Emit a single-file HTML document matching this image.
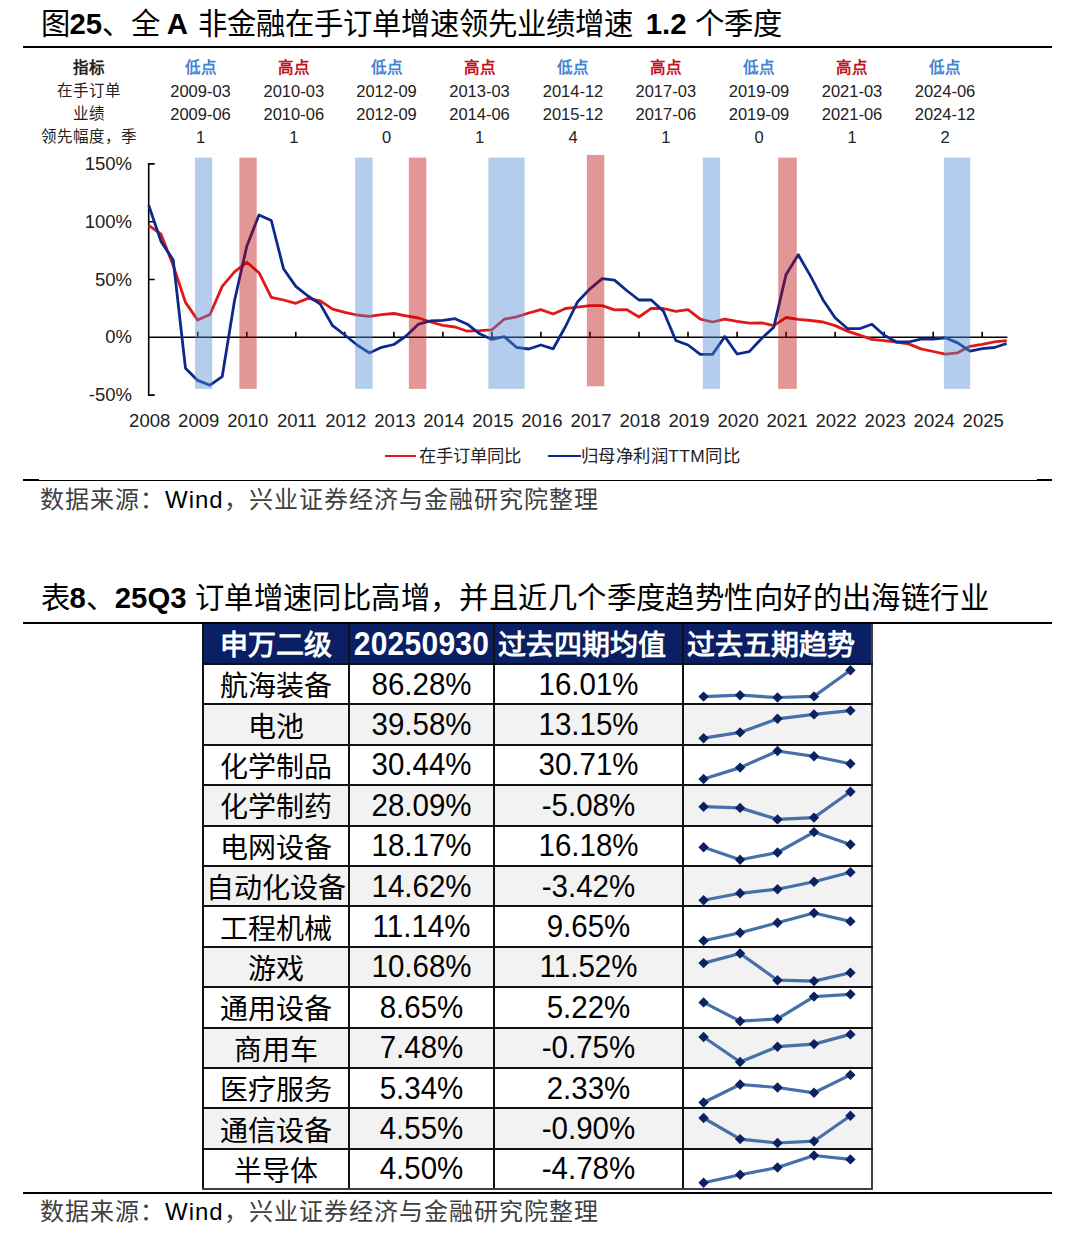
<!DOCTYPE html>
<html lang="zh-CN"><head><meta charset="utf-8"><style>
*{margin:0;padding:0;box-sizing:border-box}
html,body{width:1080px;height:1245px;background:#fff;overflow:hidden}
body{position:relative;font-family:"Liberation Sans",sans-serif;color:#000}
.abs{position:absolute}
.title{position:absolute;left:40.5px;font-size:29.33px;line-height:1;white-space:nowrap;color:#000}
.title b{font-weight:bold}
.rule{position:absolute;left:23px;width:1029px;background:#000}
.src{position:absolute;left:40px;font-size:24px;letter-spacing:1px;line-height:1;white-space:nowrap;color:#404040}
.chart{position:absolute;left:0;top:140px}
.ax{font-family:"Liberation Sans",sans-serif;font-size:18.5px;fill:#222}
.hc{position:absolute;width:120px;text-align:center;font-size:15.5px;line-height:0;white-space:nowrap;color:#222}
.hc.num{font-size:16.5px}
.hc.bold{font-weight:bold}
.hc.lo{color:#3f86d6}
.hc.hi{color:#c8101e}
.legend{position:absolute;top:456px;font-size:17.33px;line-height:0;white-space:nowrap;color:#222}
.lg{position:absolute;height:2.4px;top:455px}
table{position:absolute;left:202px;top:623.6px;border-collapse:collapse;table-layout:fixed}
td,th{border:2px solid #111;text-align:center;font-size:28px;height:40.4px;line-height:36px;padding:0;white-space:nowrap}
th{background:#0a1f64;color:#fff;font-weight:bold;height:40.5px;border-top:0}
tr.g td{background:#f2f2f2}
td span,th span{position:relative}
.cj{top:3px}
.nm{font-size:29.5px;top:-0.2px;display:inline-block;transform:scaleY(1.08)}
.hn{font-size:30px;top:1.2px;display:inline-block;transform:scaleY(1.09);letter-spacing:0.25px}
th.l{text-align:left;padding-left:3px}
tr:last-child td{border-bottom-color:#404040}
td:last-child,th:last-child{border-right-color:#404040}
.spark{position:absolute;left:0;top:620px}
</style></head><body>
<div class="title" style="top:8.7px">图<b>25</b>、全 <b style="margin-left:-1.5px;margin-right:1.5px">A</b> 非金融在手订单增速领先业绩增速 <b style="margin-left:5px">1.2</b> 个季度</div>
<div class="rule" style="top:45.5px;height:2px"></div>
<div class="hc bold" style="left:28.5px;top:67.5px">指标</div>
<div class="hc " style="left:28.5px;top:91px">在手订单</div>
<div class="hc " style="left:28.5px;top:114px">业绩</div>
<div class="hc " style="left:28.5px;top:136.5px">领先幅度，季</div>
<div class="hc bold lo" style="left:140.5px;top:67.5px">低点</div>
<div class="hc num" style="left:140.5px;top:91px">2009-03</div>
<div class="hc num" style="left:140.5px;top:114px">2009-06</div>
<div class="hc num" style="left:140.5px;top:136.5px">1</div>
<div class="hc bold hi" style="left:233.8px;top:67.5px">高点</div>
<div class="hc num" style="left:233.8px;top:91px">2010-03</div>
<div class="hc num" style="left:233.8px;top:114px">2010-06</div>
<div class="hc num" style="left:233.8px;top:136.5px">1</div>
<div class="hc bold lo" style="left:326.5px;top:67.5px">低点</div>
<div class="hc num" style="left:326.5px;top:91px">2012-09</div>
<div class="hc num" style="left:326.5px;top:114px">2012-09</div>
<div class="hc num" style="left:326.5px;top:136.5px">0</div>
<div class="hc bold hi" style="left:419.5px;top:67.5px">高点</div>
<div class="hc num" style="left:419.5px;top:91px">2013-03</div>
<div class="hc num" style="left:419.5px;top:114px">2014-06</div>
<div class="hc num" style="left:419.5px;top:136.5px">1</div>
<div class="hc bold lo" style="left:513.0px;top:67.5px">低点</div>
<div class="hc num" style="left:513.0px;top:91px">2014-12</div>
<div class="hc num" style="left:513.0px;top:114px">2015-12</div>
<div class="hc num" style="left:513.0px;top:136.5px">4</div>
<div class="hc bold hi" style="left:605.8px;top:67.5px">高点</div>
<div class="hc num" style="left:605.8px;top:91px">2017-03</div>
<div class="hc num" style="left:605.8px;top:114px">2017-06</div>
<div class="hc num" style="left:605.8px;top:136.5px">1</div>
<div class="hc bold lo" style="left:699.0px;top:67.5px">低点</div>
<div class="hc num" style="left:699.0px;top:91px">2019-09</div>
<div class="hc num" style="left:699.0px;top:114px">2019-09</div>
<div class="hc num" style="left:699.0px;top:136.5px">0</div>
<div class="hc bold hi" style="left:792.0px;top:67.5px">高点</div>
<div class="hc num" style="left:792.0px;top:91px">2021-03</div>
<div class="hc num" style="left:792.0px;top:114px">2021-06</div>
<div class="hc num" style="left:792.0px;top:136.5px">1</div>
<div class="hc bold lo" style="left:885.0px;top:67.5px">低点</div>
<div class="hc num" style="left:885.0px;top:91px">2024-06</div>
<div class="hc num" style="left:885.0px;top:114px">2024-12</div>
<div class="hc num" style="left:885.0px;top:136.5px">2</div>
<svg class="chart" width="1080" height="330" viewBox="0 140 1080 330">
<path d="M148.7,163.9 H154.7 M148.7,221.7 H154.7 M148.7,279.5 H154.7 M148.7,395.1 H154.7" stroke="#000" stroke-width="1.6" fill="none"/>
<line x1="148.7" y1="163.1" x2="148.7" y2="395.9" stroke="#000" stroke-width="1.6"/>
<line x1="148.7" y1="337.3" x2="1007.4" y2="337.3" stroke="#000" stroke-width="1.6"/>
<path d="M197.7,337.3 V331.8 M246.8,337.3 V331.8 M295.8,337.3 V331.8 M344.8,337.3 V331.8 M393.9,337.3 V331.8 M442.9,337.3 V331.8 M491.9,337.3 V331.8 M540.9,337.3 V331.8 M590.0,337.3 V331.8 M639.0,337.3 V331.8 M688.0,337.3 V331.8 M737.1,337.3 V331.8 M786.1,337.3 V331.8 M835.1,337.3 V331.8 M884.2,337.3 V331.8 M933.2,337.3 V331.8 M982.2,337.3 V331.8" stroke="#000" stroke-width="1.6" fill="none"/>
<polyline points="148.7,225.3 161.0,234.2 173.2,265.5 185.5,302.4 197.7,320.1 210.0,314.5 222.2,286.4 234.5,271.9 246.8,262.3 259.0,272.7 271.3,297.3 283.5,300.0 295.8,303.3 308.0,298.4 320.3,300.8 332.6,309.2 344.8,312.4 357.1,315.0 369.3,316.4 381.6,314.7 393.9,313.5 406.1,315.8 418.4,318.0 430.6,322.0 442.9,325.3 455.1,327.0 467.4,331.2 479.7,330.7 491.9,329.8 504.2,319.2 516.4,316.9 528.7,313.0 540.9,309.6 553.2,314.0 565.5,308.5 577.7,307.1 590.0,305.7 602.2,305.7 614.5,309.8 626.7,309.6 639.0,317.0 651.3,308.3 663.5,308.5 675.8,311.3 688.0,309.6 700.3,319.2 712.5,322.0 724.8,319.2 737.1,321.4 749.3,323.2 761.6,322.8 773.8,325.6 786.1,317.5 798.3,319.4 810.6,320.5 822.9,322.0 835.1,325.6 847.4,331.1 859.6,335.1 871.9,339.4 884.2,340.6 896.4,342.2 908.7,343.9 920.9,348.9 933.2,351.5 945.4,354.1 957.7,352.8 970.0,346.3 982.2,344.4 994.5,341.9 1006.7,340.6" fill="none" stroke="#e01818" stroke-width="2.8" stroke-linejoin="round"/>
<polyline points="148.7,205.3 161.0,241.4 173.2,259.9 185.5,368.3 197.7,380.4 210.0,385.2 222.2,376.7 234.5,300.8 246.8,246.2 259.0,214.9 271.3,220.5 283.5,268.7 295.8,286.4 308.0,296.0 320.3,304.1 332.6,325.7 344.8,335.0 357.1,345.0 369.3,352.9 381.6,347.3 393.9,344.5 406.1,336.0 418.4,324.2 430.6,320.9 442.9,320.3 455.1,318.7 467.4,324.2 479.7,333.8 491.9,339.4 504.2,336.6 516.4,347.3 528.7,349.0 540.9,345.0 553.2,348.8 565.5,326.5 577.7,301.7 590.0,288.8 602.2,278.7 614.5,280.1 626.7,290.5 639.0,300.0 651.3,300.0 663.5,311.3 675.8,340.5 688.0,345.0 700.3,354.4 712.5,354.4 724.8,336.6 737.1,354.0 749.3,351.6 761.6,338.5 773.8,327.3 786.1,274.4 798.3,254.7 810.6,276.1 822.9,299.7 835.1,317.7 847.4,328.5 859.6,328.7 871.9,324.2 884.2,335.3 896.4,342.0 908.7,342.0 920.9,339.1 933.2,339.0 945.4,337.8 957.7,342.9 970.0,351.2 982.2,348.7 994.5,347.5 1006.7,343.5" fill="none" stroke="#0c2a8c" stroke-width="2.8" stroke-linejoin="round"/>
<rect x="195.0" y="157.6" width="17.2" height="231.3" fill="#508cd2" fill-opacity="0.43"/>
<rect x="239.4" y="157.6" width="17.3" height="231.3" fill="#bb0000" fill-opacity="0.41"/>
<rect x="355.1" y="157.6" width="17.5" height="231.3" fill="#508cd2" fill-opacity="0.43"/>
<rect x="408.9" y="157.6" width="17.4" height="231.3" fill="#bb0000" fill-opacity="0.41"/>
<rect x="488.4" y="157.6" width="36.2" height="231.3" fill="#508cd2" fill-opacity="0.43"/>
<rect x="586.9" y="154.9" width="17.4" height="231.4" fill="#bb0000" fill-opacity="0.41"/>
<rect x="702.8" y="157.6" width="17.3" height="231.3" fill="#508cd2" fill-opacity="0.43"/>
<rect x="778.2" y="157.6" width="18.6" height="231.3" fill="#bb0000" fill-opacity="0.41"/>
<rect x="943.9" y="157.6" width="26.3" height="231.3" fill="#508cd2" fill-opacity="0.43"/>
<text x="132" y="169.9" text-anchor="end" class="ax">150%</text>
<text x="132" y="227.7" text-anchor="end" class="ax">100%</text>
<text x="132" y="285.5" text-anchor="end" class="ax">50%</text>
<text x="132" y="343.3" text-anchor="end" class="ax">0%</text>
<text x="132" y="401.1" text-anchor="end" class="ax">-50%</text>
<text x="149.7" y="427" text-anchor="middle" class="ax">2008</text>
<text x="198.7" y="427" text-anchor="middle" class="ax">2009</text>
<text x="247.8" y="427" text-anchor="middle" class="ax">2010</text>
<text x="296.8" y="427" text-anchor="middle" class="ax">2011</text>
<text x="345.8" y="427" text-anchor="middle" class="ax">2012</text>
<text x="394.9" y="427" text-anchor="middle" class="ax">2013</text>
<text x="443.9" y="427" text-anchor="middle" class="ax">2014</text>
<text x="492.9" y="427" text-anchor="middle" class="ax">2015</text>
<text x="541.9" y="427" text-anchor="middle" class="ax">2016</text>
<text x="591.0" y="427" text-anchor="middle" class="ax">2017</text>
<text x="640.0" y="427" text-anchor="middle" class="ax">2018</text>
<text x="689.0" y="427" text-anchor="middle" class="ax">2019</text>
<text x="738.1" y="427" text-anchor="middle" class="ax">2020</text>
<text x="787.1" y="427" text-anchor="middle" class="ax">2021</text>
<text x="836.1" y="427" text-anchor="middle" class="ax">2022</text>
<text x="885.2" y="427" text-anchor="middle" class="ax">2023</text>
<text x="934.2" y="427" text-anchor="middle" class="ax">2024</text>
<text x="983.2" y="427" text-anchor="middle" class="ax">2025</text>
</svg>
<div class="lg" style="left:385px;width:31px;background:#e01818"></div>
<div class="legend" style="left:419px">在手订单同比</div>
<div class="lg" style="left:548px;width:32.5px;background:#0c2a8c"></div>
<div class="legend" style="left:581px;letter-spacing:0.45px">归母净利润TTM同比</div>
<div class="rule" style="top:479.7px;height:1.3px"></div>
<div class="abs" style="left:23px;top:479px;width:16px;height:2px;background:#000"></div>
<div class="abs" style="left:1037px;top:479px;width:15px;height:2px;background:#000"></div>
<div class="src" style="top:488px">数据来源：<span style="color:#000">Wind</span>，兴业证券经济与金融研究院整理</div>
<div class="title" style="top:583px">表<b>8</b>、<b>25Q3</b> <span style="letter-spacing:0.42px">订单增速同比高增，并且近几个季度趋势性向好的出海链行业</span></div>
<div class="rule" style="top:621.5px;height:2px"></div>
<table>
<colgroup><col style="width:146px"><col style="width:145px"><col style="width:189px"><col style="width:189px"></colgroup>
<tr><th><span class="cj">申万二级</span></th><th><span class="hn">20250930</span></th><th class="l"><span class="cj">过去四期均值</span></th><th class="l"><span class="cj">过去五期趋势</span></th></tr>
<tr><td><span class="cj">航海装备</span></td><td><span class="nm">86.28%</span></td><td><span class="nm">16.01%</span></td><td></td></tr>
<tr class="g"><td><span class="cj">电池</span></td><td><span class="nm">39.58%</span></td><td><span class="nm">13.15%</span></td><td></td></tr>
<tr><td><span class="cj">化学制品</span></td><td><span class="nm">30.44%</span></td><td><span class="nm">30.71%</span></td><td></td></tr>
<tr class="g"><td><span class="cj">化学制药</span></td><td><span class="nm">28.09%</span></td><td><span class="nm">-5.08%</span></td><td></td></tr>
<tr><td><span class="cj">电网设备</span></td><td><span class="nm">18.17%</span></td><td><span class="nm">16.18%</span></td><td></td></tr>
<tr class="g"><td><span class="cj">自动化设备</span></td><td><span class="nm">14.62%</span></td><td><span class="nm">-3.42%</span></td><td></td></tr>
<tr><td><span class="cj">工程机械</span></td><td><span class="nm">11.14%</span></td><td><span class="nm">9.65%</span></td><td></td></tr>
<tr class="g"><td><span class="cj">游戏</span></td><td><span class="nm">10.68%</span></td><td><span class="nm">11.52%</span></td><td></td></tr>
<tr><td><span class="cj">通用设备</span></td><td><span class="nm">8.65%</span></td><td><span class="nm">5.22%</span></td><td></td></tr>
<tr class="g"><td><span class="cj">商用车</span></td><td><span class="nm">7.48%</span></td><td><span class="nm">-0.75%</span></td><td></td></tr>
<tr><td><span class="cj">医疗服务</span></td><td><span class="nm">5.34%</span></td><td><span class="nm">2.33%</span></td><td></td></tr>
<tr class="g"><td><span class="cj">通信设备</span></td><td><span class="nm">4.55%</span></td><td><span class="nm">-0.90%</span></td><td></td></tr>
<tr><td><span class="cj">半导体</span></td><td><span class="nm">4.50%</span></td><td><span class="nm">-4.78%</span></td><td></td></tr>
</table>
<svg class="spark" width="1080" height="600" viewBox="0 620 1080 600">
<polyline points="703.6,696.6 740.1,695.2 777.5,697.5 814.0,696.4 850.4,670.2" fill="none" stroke="#4670a8" stroke-width="3.2" stroke-linejoin="round"/>
<path d="M703.6,691.4 L708.8,696.6 L703.6,701.8 L698.4,696.6 Z" fill="#0a2162"/>
<path d="M740.1,690.0 L745.3,695.2 L740.1,700.4 L734.9,695.2 Z" fill="#0a2162"/>
<path d="M777.5,692.3 L782.7,697.5 L777.5,702.7 L772.3,697.5 Z" fill="#0a2162"/>
<path d="M814.0,691.2 L819.2,696.4 L814.0,701.6 L808.8,696.4 Z" fill="#0a2162"/>
<path d="M850.4,665.0 L855.6,670.2 L850.4,675.4 L845.2,670.2 Z" fill="#0a2162"/>
<polyline points="703.6,738.2 740.1,732.4 777.5,718.8 814.0,714.4 850.4,710.6" fill="none" stroke="#4670a8" stroke-width="3.2" stroke-linejoin="round"/>
<path d="M703.6,733.0 L708.8,738.2 L703.6,743.4 L698.4,738.2 Z" fill="#0a2162"/>
<path d="M740.1,727.2 L745.3,732.4 L740.1,737.6 L734.9,732.4 Z" fill="#0a2162"/>
<path d="M777.5,713.6 L782.7,718.8 L777.5,724.0 L772.3,718.8 Z" fill="#0a2162"/>
<path d="M814.0,709.2 L819.2,714.4 L814.0,719.6 L808.8,714.4 Z" fill="#0a2162"/>
<path d="M850.4,705.4 L855.6,710.6 L850.4,715.8 L845.2,710.6 Z" fill="#0a2162"/>
<polyline points="703.6,779.0 740.1,767.6 777.5,751.0 814.0,756.3 850.4,763.7" fill="none" stroke="#4670a8" stroke-width="3.2" stroke-linejoin="round"/>
<path d="M703.6,773.8 L708.8,779.0 L703.6,784.2 L698.4,779.0 Z" fill="#0a2162"/>
<path d="M740.1,762.4 L745.3,767.6 L740.1,772.8 L734.9,767.6 Z" fill="#0a2162"/>
<path d="M777.5,745.8 L782.7,751.0 L777.5,756.2 L772.3,751.0 Z" fill="#0a2162"/>
<path d="M814.0,751.1 L819.2,756.3 L814.0,761.5 L808.8,756.3 Z" fill="#0a2162"/>
<path d="M850.4,758.5 L855.6,763.7 L850.4,768.9 L845.2,763.7 Z" fill="#0a2162"/>
<polyline points="703.6,806.7 740.1,807.9 777.5,819.4 814.0,817.6 850.4,791.8" fill="none" stroke="#4670a8" stroke-width="3.2" stroke-linejoin="round"/>
<path d="M703.6,801.5 L708.8,806.7 L703.6,811.9 L698.4,806.7 Z" fill="#0a2162"/>
<path d="M740.1,802.7 L745.3,807.9 L740.1,813.1 L734.9,807.9 Z" fill="#0a2162"/>
<path d="M777.5,814.2 L782.7,819.4 L777.5,824.6 L772.3,819.4 Z" fill="#0a2162"/>
<path d="M814.0,812.4 L819.2,817.6 L814.0,822.8 L808.8,817.6 Z" fill="#0a2162"/>
<path d="M850.4,786.6 L855.6,791.8 L850.4,797.0 L845.2,791.8 Z" fill="#0a2162"/>
<polyline points="703.6,847.2 740.1,859.8 777.5,852.5 814.0,832.1 850.4,844.5" fill="none" stroke="#4670a8" stroke-width="3.2" stroke-linejoin="round"/>
<path d="M703.6,842.0 L708.8,847.2 L703.6,852.4 L698.4,847.2 Z" fill="#0a2162"/>
<path d="M740.1,854.6 L745.3,859.8 L740.1,865.0 L734.9,859.8 Z" fill="#0a2162"/>
<path d="M777.5,847.3 L782.7,852.5 L777.5,857.7 L772.3,852.5 Z" fill="#0a2162"/>
<path d="M814.0,826.9 L819.2,832.1 L814.0,837.3 L808.8,832.1 Z" fill="#0a2162"/>
<path d="M850.4,839.3 L855.6,844.5 L850.4,849.7 L845.2,844.5 Z" fill="#0a2162"/>
<polyline points="703.6,900.3 740.1,893.3 777.5,889.2 814.0,881.8 850.4,872.2" fill="none" stroke="#4670a8" stroke-width="3.2" stroke-linejoin="round"/>
<path d="M703.6,895.1 L708.8,900.3 L703.6,905.5 L698.4,900.3 Z" fill="#0a2162"/>
<path d="M740.1,888.1 L745.3,893.3 L740.1,898.5 L734.9,893.3 Z" fill="#0a2162"/>
<path d="M777.5,884.0 L782.7,889.2 L777.5,894.4 L772.3,889.2 Z" fill="#0a2162"/>
<path d="M814.0,876.6 L819.2,881.8 L814.0,887.0 L808.8,881.8 Z" fill="#0a2162"/>
<path d="M850.4,867.0 L855.6,872.2 L850.4,877.4 L845.2,872.2 Z" fill="#0a2162"/>
<polyline points="703.6,940.8 740.1,932.7 777.5,922.7 814.0,913.0 850.4,921.4" fill="none" stroke="#4670a8" stroke-width="3.2" stroke-linejoin="round"/>
<path d="M703.6,935.6 L708.8,940.8 L703.6,946.0 L698.4,940.8 Z" fill="#0a2162"/>
<path d="M740.1,927.5 L745.3,932.7 L740.1,937.9 L734.9,932.7 Z" fill="#0a2162"/>
<path d="M777.5,917.5 L782.7,922.7 L777.5,927.9 L772.3,922.7 Z" fill="#0a2162"/>
<path d="M814.0,907.8 L819.2,913.0 L814.0,918.2 L808.8,913.0 Z" fill="#0a2162"/>
<path d="M850.4,916.2 L855.6,921.4 L850.4,926.6 L845.2,921.4 Z" fill="#0a2162"/>
<polyline points="703.6,963.1 740.1,953.5 777.5,980.2 814.0,981.1 850.4,972.8" fill="none" stroke="#4670a8" stroke-width="3.2" stroke-linejoin="round"/>
<path d="M703.6,957.9 L708.8,963.1 L703.6,968.3 L698.4,963.1 Z" fill="#0a2162"/>
<path d="M740.1,948.3 L745.3,953.5 L740.1,958.7 L734.9,953.5 Z" fill="#0a2162"/>
<path d="M777.5,975.0 L782.7,980.2 L777.5,985.4 L772.3,980.2 Z" fill="#0a2162"/>
<path d="M814.0,975.9 L819.2,981.1 L814.0,986.3 L808.8,981.1 Z" fill="#0a2162"/>
<path d="M850.4,967.6 L855.6,972.8 L850.4,978.0 L845.2,972.8 Z" fill="#0a2162"/>
<polyline points="703.6,1002.4 740.1,1021.2 777.5,1018.9 814.0,996.6 850.4,994.3" fill="none" stroke="#4670a8" stroke-width="3.2" stroke-linejoin="round"/>
<path d="M703.6,997.2 L708.8,1002.4 L703.6,1007.6 L698.4,1002.4 Z" fill="#0a2162"/>
<path d="M740.1,1016.0 L745.3,1021.2 L740.1,1026.4 L734.9,1021.2 Z" fill="#0a2162"/>
<path d="M777.5,1013.7 L782.7,1018.9 L777.5,1024.1 L772.3,1018.9 Z" fill="#0a2162"/>
<path d="M814.0,991.4 L819.2,996.6 L814.0,1001.8 L808.8,996.6 Z" fill="#0a2162"/>
<path d="M850.4,989.1 L855.6,994.3 L850.4,999.5 L845.2,994.3 Z" fill="#0a2162"/>
<polyline points="703.6,1037.0 740.1,1062.0 777.5,1046.7 814.0,1044.1 850.4,1034.4" fill="none" stroke="#4670a8" stroke-width="3.2" stroke-linejoin="round"/>
<path d="M703.6,1031.8 L708.8,1037.0 L703.6,1042.2 L698.4,1037.0 Z" fill="#0a2162"/>
<path d="M740.1,1056.8 L745.3,1062.0 L740.1,1067.2 L734.9,1062.0 Z" fill="#0a2162"/>
<path d="M777.5,1041.5 L782.7,1046.7 L777.5,1051.9 L772.3,1046.7 Z" fill="#0a2162"/>
<path d="M814.0,1038.9 L819.2,1044.1 L814.0,1049.3 L808.8,1044.1 Z" fill="#0a2162"/>
<path d="M850.4,1029.2 L855.6,1034.4 L850.4,1039.6 L845.2,1034.4 Z" fill="#0a2162"/>
<polyline points="703.6,1102.5 740.1,1084.5 777.5,1087.5 814.0,1092.8 850.4,1074.9" fill="none" stroke="#4670a8" stroke-width="3.2" stroke-linejoin="round"/>
<path d="M703.6,1097.3 L708.8,1102.5 L703.6,1107.7 L698.4,1102.5 Z" fill="#0a2162"/>
<path d="M740.1,1079.3 L745.3,1084.5 L740.1,1089.7 L734.9,1084.5 Z" fill="#0a2162"/>
<path d="M777.5,1082.3 L782.7,1087.5 L777.5,1092.7 L772.3,1087.5 Z" fill="#0a2162"/>
<path d="M814.0,1087.6 L819.2,1092.8 L814.0,1098.0 L808.8,1092.8 Z" fill="#0a2162"/>
<path d="M850.4,1069.7 L855.6,1074.9 L850.4,1080.1 L845.2,1074.9 Z" fill="#0a2162"/>
<polyline points="703.6,1118.0 740.1,1139.1 777.5,1143.0 814.0,1141.2 850.4,1115.7" fill="none" stroke="#4670a8" stroke-width="3.2" stroke-linejoin="round"/>
<path d="M703.6,1112.8 L708.8,1118.0 L703.6,1123.2 L698.4,1118.0 Z" fill="#0a2162"/>
<path d="M740.1,1133.9 L745.3,1139.1 L740.1,1144.3 L734.9,1139.1 Z" fill="#0a2162"/>
<path d="M777.5,1137.8 L782.7,1143.0 L777.5,1148.2 L772.3,1143.0 Z" fill="#0a2162"/>
<path d="M814.0,1136.0 L819.2,1141.2 L814.0,1146.4 L808.8,1141.2 Z" fill="#0a2162"/>
<path d="M850.4,1110.5 L855.6,1115.7 L850.4,1120.9 L845.2,1115.7 Z" fill="#0a2162"/>
<polyline points="703.6,1182.8 740.1,1174.8 777.5,1167.5 814.0,1155.5 850.4,1159.4" fill="none" stroke="#4670a8" stroke-width="3.2" stroke-linejoin="round"/>
<path d="M703.6,1177.6 L708.8,1182.8 L703.6,1188.0 L698.4,1182.8 Z" fill="#0a2162"/>
<path d="M740.1,1169.6 L745.3,1174.8 L740.1,1180.0 L734.9,1174.8 Z" fill="#0a2162"/>
<path d="M777.5,1162.3 L782.7,1167.5 L777.5,1172.7 L772.3,1167.5 Z" fill="#0a2162"/>
<path d="M814.0,1150.3 L819.2,1155.5 L814.0,1160.7 L808.8,1155.5 Z" fill="#0a2162"/>
<path d="M850.4,1154.2 L855.6,1159.4 L850.4,1164.6 L845.2,1159.4 Z" fill="#0a2162"/>
</svg>
<div class="rule" style="top:1192px;height:2px"></div>
<div class="src" style="top:1200px">数据来源：<span style="color:#000">Wind</span>，兴业证券经济与金融研究院整理</div>
</body></html>
